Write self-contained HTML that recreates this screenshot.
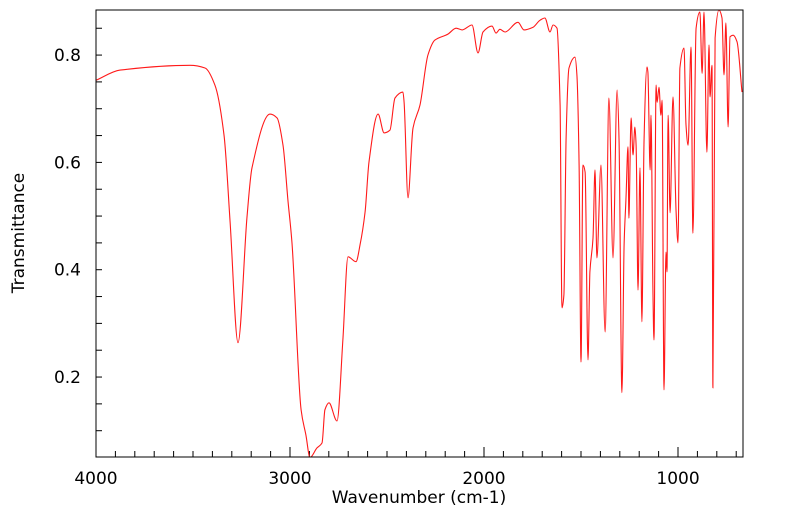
<!DOCTYPE html>
<html><head><meta charset="utf-8"><style>
html,body{margin:0;padding:0;background:#fff;}
svg{display:block;font-family:"DejaVu Sans","Liberation Sans",sans-serif;}
</style></head><body>
<svg id="chart" width="799" height="516" viewBox="0 0 799 516">
<defs><clipPath id="clip"><rect x="96" y="10" width="647" height="447"/></clipPath></defs>
<g id="ticks"></g>
<path id="line" fill="none" stroke="#ff1a1a" stroke-width="1.1" clip-path="url(#clip)"/>
<rect x="96" y="10" width="647" height="447" fill="none" stroke="#000" stroke-width="1"/>
<text x="419" y="503" font-size="17" text-anchor="middle">Wavenumber (cm-1)</text>
<text transform="translate(24,233) rotate(-90)" font-size="17" text-anchor="middle">Transmittance</text>
</svg>
<script>
const wavenumbers=[4000,3876,3515,3438,3387,3340,3309,3268,3222,3196,3103,3067,3036,3010,2990,2943,2918,2897,2861,2835,2820,2799,2758,2727,2701,2660,2639,2613,2593,2546,2515,2485,2459,2418,2412,2392,2366,2330,2289,2253,2186,2144,2113,2062,2031,2005,1959,1938,1918,1892,1825,1794,1747,1711,1686,1660,1644,1624,1608,1598,1588,1577,1562,1531,1521,1510,1500,1490,1479,1464,1454,1438,1428,1418,1397,1376,1356,1335,1314,1304,1289,1278,1268,1258,1253,1242,1232,1222,1216,1206,1196,1186,1175,1160,1155,1144,1139,1129,1124,1113,1108,1098,1088,1082,1072,1062,1057,1051,1041,1026,1010,1000,990,969,959,948,933,923,907,887,876,866,851,840,835,825,820,809,789,773,763,753,742,732,716,696,670];
const transmittance=[0.753,0.772,0.781,0.776,0.744,0.651,0.489,0.264,0.496,0.590,0.690,0.683,0.632,0.526,0.452,0.139,0.092,0.05,0.068,0.077,0.139,0.152,0.118,0.273,0.424,0.415,0.446,0.508,0.601,0.690,0.655,0.660,0.720,0.731,0.712,0.534,0.664,0.707,0.800,0.828,0.839,0.850,0.847,0.856,0.804,0.843,0.854,0.841,0.848,0.843,0.861,0.847,0.852,0.865,0.869,0.843,0.856,0.850,0.707,0.329,0.353,0.645,0.776,0.796,0.763,0.595,0.228,0.595,0.582,0.232,0.396,0.459,0.586,0.422,0.595,0.284,0.720,0.422,0.735,0.645,0.171,0.446,0.534,0.629,0.496,0.683,0.614,0.666,0.632,0.362,0.590,0.303,0.645,0.778,0.768,0.586,0.688,0.353,0.269,0.744,0.712,0.740,0.688,0.716,0.176,0.433,0.396,0.688,0.506,0.722,0.508,0.450,0.776,0.813,0.670,0.632,0.815,0.468,0.850,0.880,0.766,0.880,0.619,0.819,0.722,0.781,0.180,0.832,0.884,0.869,0.763,0.860,0.666,0.834,0.837,0.825,0.731];
const xTickLabels=[4000,3000,2000,1000];
const yTickLabels=[0.2,0.4,0.6,0.8];
const xMax=4000,xMin=665,yMin=0.051,yMax=0.884;
const L=96,R=743,T=10,B=457;
function xs(v){return L+(xMax-v)/(xMax-xMin)*(R-L);}
function ys(v){return B-(v-yMin)/(yMax-yMin)*(B-T);}
const NS="http://www.w3.org/2000/svg";
const svg=document.getElementById('chart');
const tg=document.getElementById('ticks');
// monotone cubic smoothing
const P=wavenumbers.map((w,i)=>[xs(w),ys(transmittance[i])]);
const n=P.length,dl=[],m=[];
for(let i=0;i<n-1;i++){const dx=P[i+1][0]-P[i][0];dl.push(dx?(P[i+1][1]-P[i][1])/dx:0);}
for(let i=0;i<n;i++){
 if(i===0)m.push(dl[0]);else if(i===n-1)m.push(dl[n-2]);
 else{const a=dl[i-1],b=dl[i];m.push(a*b<=0?0:2/(1/a+1/b));}
}
let d='M'+P[0][0].toFixed(1)+' '+P[0][1].toFixed(1);
for(let i=0;i<n-1;i++){const h=(P[i+1][0]-P[i][0])/3;
d+='C'+(P[i][0]+h).toFixed(1)+' '+(P[i][1]+m[i]*h).toFixed(1)+' '+(P[i+1][0]-h).toFixed(1)+' '+(P[i+1][1]-m[i+1]*h).toFixed(1)+' '+P[i+1][0].toFixed(1)+' '+P[i+1][1].toFixed(1);}
document.getElementById('line').setAttribute('d',d);
function ln(x1,y1,x2,y2){const l=document.createElementNS(NS,'line');l.setAttribute('x1',x1);l.setAttribute('y1',y1);l.setAttribute('x2',x2);l.setAttribute('y2',y2);l.setAttribute('stroke','#000');l.setAttribute('stroke-width','1');


tg.appendChild(l);}
for(let w=4000;w>=xMin;w-=100){const x=xs(w);ln(x,B,x,B-(w%1000===0?10:6));}
for(let v=0.05;v<=yMax;v+=0.05){const y=ys(v);if(y<T||y>B)continue;ln(L,y,L+6,y);}
xTickLabels.forEach(v=>{const t=document.createElementNS(NS,'text');t.setAttribute('x',xs(v));t.setAttribute('y',484);t.setAttribute('font-size','17');t.setAttribute('text-anchor','middle');t.textContent=v;


svg.appendChild(t);});
yTickLabels.forEach(v=>{const t=document.createElementNS(NS,'text');t.setAttribute('x',81);t.setAttribute('y',ys(v)+6);t.setAttribute('font-size','17');t.setAttribute('text-anchor','end');t.textContent=v.toFixed(1);


svg.appendChild(t);});
</script>
</body></html>
